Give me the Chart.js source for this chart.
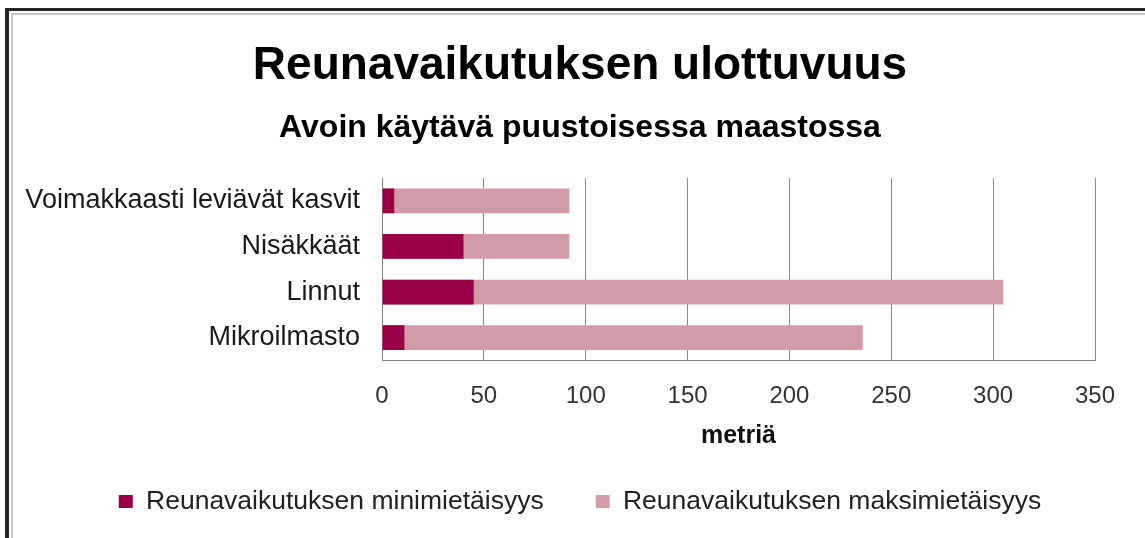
<!DOCTYPE html>
<html>
<head>
<meta charset="utf-8">
<script src="https://cdn.jsdelivr.net/npm/chart.js@4"></script>
<style>
  html, body { margin: 0; padding: 0; background: #fff; overflow: hidden; }
  #wrap { position: relative; width: 1145px; height: 538px; }
  #frame { position: absolute; left: 5px; top: 8px; width: 1200px; height: 600px;
    border-top: 3px solid #262626; border-left: 4px solid #262626; }
  #frame2 { position: absolute; left: 11px; top: 13px; width: 1200px; height: 600px;
    border-top: 2px solid #c8c8c8; border-left: 2px solid #c8c8c8; }
  canvas { position: absolute; left: 0; top: 0; }
</style>
</head>
<body>
<div id="wrap">
  <div id="frame"></div>
  <div id="frame2"></div>
  <canvas id="myChart" width="1140" height="538"></canvas>
</div>
<script>
const categories = ['Voimakkaasti leviävät kasvit', 'Nisäkkäät', 'Linnut', 'Mikroilmasto']
const minValues = [6, 40, 45, 11]
const maxValues = [92, 92, 305, 236]
const seriesNames = ['Reunavaikutuksen minimietäisyys', 'Reunavaikutuksen maksimietäisyys']
const xTicks = [0, 50, 100, 150, 200, 250, 300, 350]

Chart.defaults.font.family = '"Liberation Sans", Arial, sans-serif'
Chart.defaults.color = '#222'

const ctx = document.getElementById('myChart')

new Chart(ctx, {
  type: 'bar',
  data: {
    labels: categories,
    datasets: [{
      label: seriesNames[0],
      data: minValues,
      backgroundColor: '#990045',
      barPercentage: 0.54,
      categoryPercentage: 1
    }, {
      label: seriesNames[1],
      data: maxValues,
      backgroundColor: '#d39ba8',
      barPercentage: 0.54,
      categoryPercentage: 1
    }]
  },
  options: {
    indexAxis: 'y',
    responsive: false,
    animation: false,
    layout: { padding: { left: 20, right: 0, top: 0, bottom: 13.25 } },
    plugins: {
      title: {
        display: true,
        text: 'Reunavaikutuksen ulottuvuus',
        color: '#000',
        font: { size: 46, weight: 'bold' },
        padding: { top: 39, bottom: 15 }
      },
      subtitle: {
        display: true,
        text: 'Avoin käytävä puustoisessa maastossa',
        color: '#000',
        font: { size: 32, weight: 'bold' },
        padding: { top: 0, bottom: 30.4 }
      },
      legend: {
        position: 'bottom',
        labels: {
          font: { size: 26.5 },
          color: '#222',
          boxWidth: 14,
          boxHeight: 13,
          padding: 52
        }
      },
      tooltip: { enabled: false }
    },
    scales: {
      x: {
        stacked: false,
        min: xTicks[0],
        max: xTicks[xTicks.length - 1],
        afterBuildTicks: scale => { scale.ticks = xTicks.map(v => ({ value: v })) },
        grid: { color: '#8a8a8a', drawTicks: false, tickLength: 0 },
        border: { color: '#808080' },
        ticks: { font: { size: 24 }, color: '#333', padding: 21 },
        title: {
          display: true,
          text: 'metriä',
          color: '#111',
          font: { size: 25, weight: 'bold' },
          padding: { top: 0, bottom: -14.75 }
        },
        afterFit: scale => { scale.height = 75.75 }
      },
      y: {
        stacked: true,
        grid: { display: false, drawTicks: false, tickLength: 0 },
        border: { display: true, color: '#808080' },
        ticks: { font: { size: 27 }, color: '#1a1a1a', padding: 22 },
        afterFit: scale => { scale.width = 362 }
      },
      // empty spacer on the right so titles and legend centre like the original
      yRight: {
        axis: 'y',
        type: 'linear',
        position: 'right',
        grid: { display: false },
        border: { display: false },
        ticks: { display: false },
        afterFit: scale => { scale.width = 45 }
      }
    }
  }
})
</script>
</body>
</html>
